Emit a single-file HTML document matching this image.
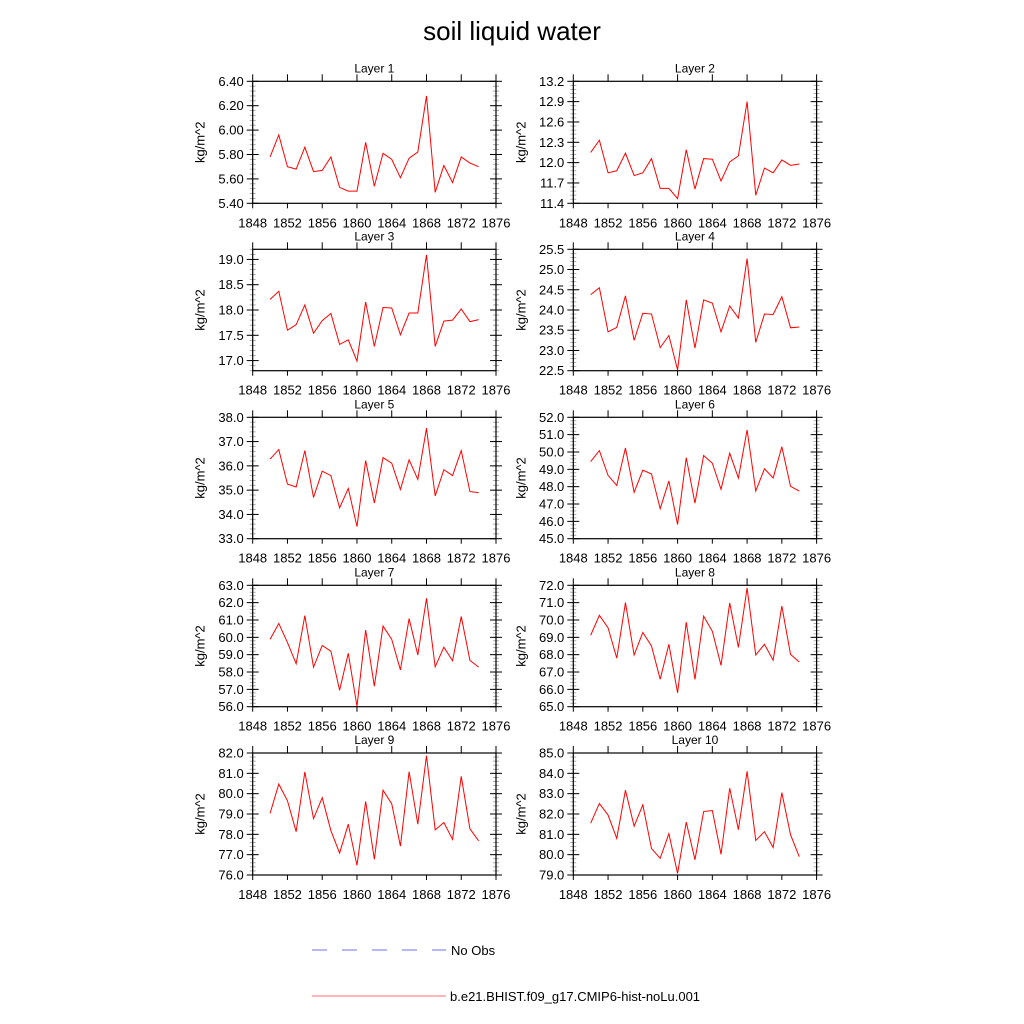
<!DOCTYPE html>
<html><head><meta charset="utf-8"><style>
html,body{margin:0;padding:0;background:#fff}
svg{display:block;font-family:"Liberation Sans",sans-serif}
</style></head><body>
<svg id="chart" width="1024" height="1024" viewBox="0 0 1024 1024" xmlns="http://www.w3.org/2000/svg">
<text x="512" y="40" font-size="26" text-anchor="middle">soil liquid water</text>
<g>
<line x1="312" y1="950" x2="446" y2="950" stroke="#7070f0" stroke-width="1" stroke-dasharray="15,15"/>
<text x="451" y="955" font-size="13">No Obs</text>
<line x1="312" y1="996" x2="446" y2="996" stroke="#ff7070" stroke-width="1"/>
<text x="450" y="1001" font-size="13">b.e21.BHIST.f09_g17.CMIP6-hist-noLu.001</text>
</g>
</svg>
<script>
const years = [1850,1851,1852,1853,1854,1855,1856,1857,1858,1859,1860,1861,1862,1863,1864,1865,1866,1867,1868,1869,1870,1871,1872,1873,1874];
const xTicks = [1848,1852,1856,1860,1864,1868,1872,1876];
const layer1 = [5.78,5.96,5.70,5.68,5.86,5.66,5.67,5.78,5.53,5.50,5.50,5.90,5.54,5.81,5.76,5.61,5.77,5.82,6.28,5.49,5.71,5.57,5.78,5.73,5.70];
const layer2 = [12.15,12.33,11.85,11.88,12.14,11.81,11.85,12.06,11.62,11.62,11.47,12.19,11.61,12.06,12.05,11.73,12.01,12.10,12.90,11.52,11.92,11.85,12.04,11.96,11.98];
const layer3 = [18.21,18.37,17.60,17.71,18.10,17.54,17.79,17.93,17.32,17.41,16.99,18.16,17.28,18.05,18.04,17.51,17.94,17.94,19.09,17.28,17.78,17.80,18.02,17.77,17.81];
const layer4 = [24.38,24.55,23.46,23.57,24.35,23.25,23.92,23.90,23.07,23.37,22.52,24.25,23.06,24.25,24.17,23.46,24.10,23.80,25.27,23.20,23.90,23.89,24.33,23.56,23.58];
const layer5 = [36.28,36.67,35.25,35.13,36.63,34.70,35.78,35.60,34.27,35.07,33.50,36.22,34.47,36.34,36.11,35.03,36.25,35.44,37.55,34.76,35.84,35.60,36.63,34.94,34.90];
const layer6 = [49.45,50.08,48.65,48.07,50.23,47.67,48.95,48.73,46.73,48.33,45.82,49.67,47.05,49.80,49.35,47.85,49.93,48.50,51.27,47.75,49.03,48.50,50.30,48.02,47.75];
const layer7 = [59.88,60.80,59.70,58.48,61.25,58.28,59.53,59.20,56.95,59.08,56.02,60.42,57.18,60.65,59.88,58.12,61.08,58.98,62.25,58.30,59.43,58.65,61.20,58.67,58.28];
const layer8 = [69.12,70.27,69.55,67.80,71.00,67.98,69.28,68.50,66.58,68.60,65.80,69.87,66.57,70.22,69.35,67.38,70.98,68.42,71.85,67.98,68.60,67.68,70.80,68.02,67.58];
const layer9 = [79.03,80.47,79.65,78.13,81.07,78.77,79.80,78.18,77.08,78.50,76.47,79.62,76.77,80.17,79.50,77.42,81.08,78.50,81.87,78.22,78.58,77.75,80.85,78.27,77.68];
const layer10 = [81.55,82.52,81.95,80.80,83.17,81.40,82.45,80.30,79.82,81.03,79.08,81.60,79.75,82.12,82.17,80.02,83.27,81.23,84.10,80.70,81.13,80.35,83.05,80.98,79.90];
const yTicks1 = ["5.40","5.60","5.80","6.00","6.20","6.40"];
const yTicks2 = ["11.4","11.7","12.0","12.3","12.6","12.9","13.2"];
const yTicks3 = ["17.0","17.5","18.0","18.5","19.0"];
const yTicks4 = ["22.5","23.0","23.5","24.0","24.5","25.0","25.5"];
const yTicks5 = ["33.0","34.0","35.0","36.0","37.0","38.0"];
const yTicks6 = ["45.0","46.0","47.0","48.0","49.0","50.0","51.0","52.0"];
const yTicks7 = ["56.0","57.0","58.0","59.0","60.0","61.0","62.0","63.0"];
const yTicks8 = ["65.0","66.0","67.0","68.0","69.0","70.0","71.0","72.0"];
const yTicks9 = ["76.0","77.0","78.0","79.0","80.0","81.0","82.0"];
const yTicks10 = ["79.0","80.0","81.0","82.0","83.0","84.0","85.0"];
const yMin = [5.4,11.4,16.8,22.5,33,45,56,65,76,79];
const yMax = [6.4,13.2,19.2,25.5,38,52,63,72,82,85];

const series=[layer1,layer2,layer3,layer4,layer5,layer6,layer7,layer8,layer9,layer10];
const ticks=[yTicks1,yTicks2,yTicks3,yTicks4,yTicks5,yTicks6,yTicks7,yTicks8,yTicks9,yTicks10];
const colX=[[252.7,496],[573.3,816.6]];
const rowY=[[81.3,203.3],[249.3,370.7],[417.3,538.7],[585.3,706.7],[753,875]];
const svg=document.getElementById('chart');
const NS='http://www.w3.org/2000/svg';
function mk(tag,attrs,parent){const e=document.createElementNS(NS,tag);for(const k in attrs)e.setAttribute(k,attrs[k]);parent.appendChild(e);return e;}

for(let p=0;p<10;p++){
  const [x0,x1]=colX[p%2], [y0,y1]=rowY[Math.floor(p/2)];
  const xs=v=>x0+(v-1848)/(1876-1848)*(x1-x0);
  const ys=v=>y1-(v-yMin[p])/(yMax[p]-yMin[p])*(y1-y0);
  const g=mk('g',{},svg);
  
  
  const t=mk('text',{x:(x0+x1)/2,y:y0-9,'font-size':12,'text-anchor':'middle'},g);
  
  
  t.textContent='Layer '+(p+1);
  const yl=mk('text',{x:0,y:0,'font-size':13,'text-anchor':'middle',transform:`translate(${x0-48},${(y0+y1)/2}) rotate(-90)`},g);
  
  
  yl.textContent='kg/m^2';
  xTicks.forEach(v=>{
    const x=xs(v);
    const tb=mk('line',{x1:x,x2:x,y1:y1,y2:y1+5,stroke:'#000','stroke-width':1},g);
    
    
    const tt=mk('line',{x1:x,x2:x,y1:y0-7,y2:y0,stroke:'#000','stroke-width':1},g);
    
    
    const lb=mk('text',{x:x,y:y1+24,'font-size':13,'text-anchor':'middle'},g);
    
    
    lb.textContent=v;
  });
  const tv=ticks[p].map(Number);
  const step=tv[1]-tv[0];
  const minorStep=step/5;
  for(let v=tv[0]-step;v<=yMax[p]+1e-9;v+=minorStep){
    if(v<yMin[p]-1e-9)continue;
    const y=ys(v);
    [x0,x1].forEach(ax=>{
      const mn=mk('line',{x1:ax-3,x2:ax+3,y1:y,y2:y,stroke:'#999','stroke-width':0.8},g);
      
      
    });
  }
  ticks[p].forEach(s=>{
    const y=ys(Number(s));
    [x0,x1].forEach(ax=>{
      const mj=mk('line',{x1:ax-6,x2:ax+6,y1:y,y2:y,stroke:'#000','stroke-width':1},g);
      
      
    });
    const lb=mk('text',{x:x0-9,y:y+4.5,'font-size':13,'text-anchor':'end'},g);
    
    
    lb.textContent=s;
  });
  const box=mk('rect',{x:x0,y:y0,width:x1-x0,height:y1-y0,fill:'none',stroke:'#000','stroke-width':1.2},g);
  
  
  const pts=series[p].map((v,i)=>xs(years[i]).toFixed(2)+','+ys(v).toFixed(2)).join(' ');
  const pl=mk('polyline',{points:pts,fill:'none',stroke:'#ff0000','stroke-width':1},g);
  
  
}
</script>
</body></html>
